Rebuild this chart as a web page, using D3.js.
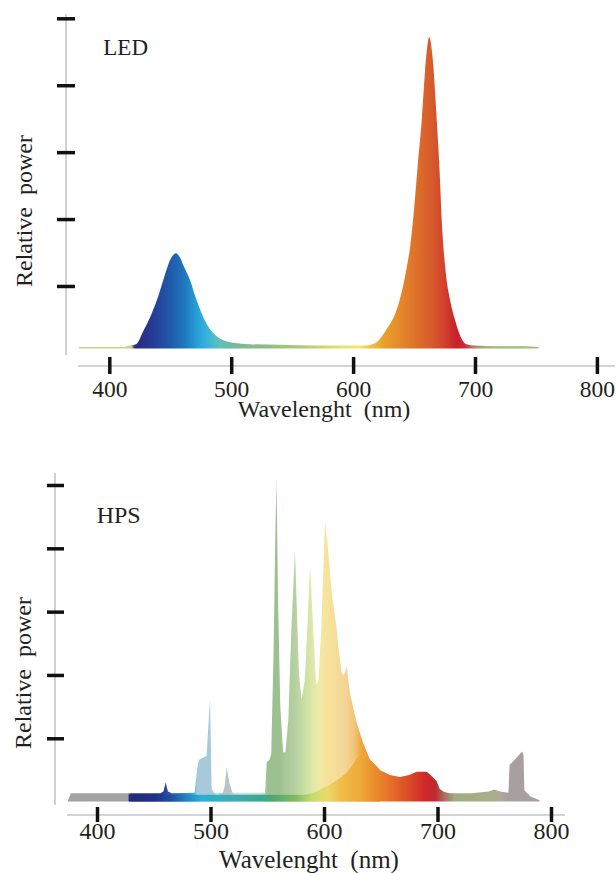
<!DOCTYPE html>
<html>
<head>
<meta charset="utf-8">
<script src="https://cdn.jsdelivr.net/npm/d3@7"></script>
<style>
  html, body { margin: 0; padding: 0; background: #fff; }
  svg { display: block; }
  text { font-family: "Liberation Serif", "DejaVu Serif", serif; fill: #231f20; }
</style>
</head>
<body>
<svg id="chart" width="616" height="873"></svg>
<script>
// ---- data (wavelength nm, relative power) ----
const xTicks = [400, 500, 600, 700, 800];
const yTicks = [1, 2, 3, 4, 5];

const ledSpectrum = [
  [375, 0.09], [412, 0.09], [416, 0.11], [422, 0.13], [428, 0.33], [434.8, 0.59],
  [440, 0.84], [444.3, 1.09], [448, 1.3], [451.5, 1.44], [454.7, 1.49], [457.5, 1.44],
  [461, 1.3], [466.2, 1.09], [471, 0.82], [475.8, 0.59], [481, 0.4], [488, 0.25],
  [495, 0.18], [502, 0.15], [515, 0.13], [540, 0.12], [570, 0.11], [600, 0.11],
  [610, 0.11], [616, 0.13], [620, 0.17], [624, 0.26], [628, 0.37], [633, 0.52],
  [638, 0.78], [643, 1.18], [647, 1.62], [650, 2.15], [653, 2.8], [656.3, 3.48],
  [659, 4.2], [662.5, 4.72], [665, 4.45], [668.6, 3.48], [671, 2.7], [672.7, 1.99],
  [676, 1.2], [680, 0.75], [683.6, 0.49], [688, 0.25], [693, 0.13], [700, 0.11],
  [720, 0.1], [740, 0.1], [752, 0.09]
];

const hpsSpectrum = [
  [374, 0], [377, 0.13], [428, 0.13], [456, 0.13], [458.5, 0.16], [460.5, 0.3],
  [462.5, 0.16], [466, 0.13], [486, 0.14], [488.5, 0.55], [490, 0.66], [492, 0.68],
  [496.5, 0.72], [499.6, 1.62], [501, 0.2], [503, 0.14], [511, 0.14], [512.5, 0.25],
  [514.3, 0.54], [516.5, 0.3], [519.5, 0.14], [548, 0.14], [549.5, 0.62], [552, 0.66],
  [553.5, 0.75], [555.5, 2.3], [557.2, 4.3], [558.2, 5.06], [559.5, 3.2], [561.5, 1.5],
  [564, 0.78], [566, 0.78], [568.6, 1.3], [571, 2.6], [574.4, 3.96], [576, 3.1],
  [578, 2.0], [580.3, 1.62], [583, 1.9], [585, 2.6], [587.7, 3.72], [590, 2.9],
  [593, 1.85], [595, 1.9], [597.5, 2.7], [600.9, 4.41], [603, 4.1], [606.8, 3.3],
  [611.2, 2.72], [612.6, 2.45], [615.6, 2.03], [617.5, 2.0], [620, 2.13], [622.9, 1.71],
  [628.8, 1.24], [634.6, 0.92], [640.5, 0.66], [649.3, 0.5], [658, 0.42], [667, 0.39],
  [675, 0.42], [681.7, 0.47], [690.5, 0.47], [695, 0.4], [699.3, 0.32], [702, 0.2],
  [706, 0.15], [711, 0.13], [730, 0.13], [745, 0.16], [750, 0.19], [755, 0.16],
  [762.5, 0.14], [763.5, 0.58], [768, 0.66], [774.5, 0.79], [775.8, 0.74], [776.5, 0.18],
  [782, 0.08], [790, 0.02]
];

// saturated continuum under the HPS lines (rises into the orange band)
const hpsContinuum = [
  [428, 0.11], [582, 0.11], [600, 0.22], [620, 0.46], [634, 0.74], [640.5, 0.66],
  [649.3, 0.5]
];

// ---- colour ramps (wavelength -> colour) ----
const ledColours = [
  [375, "#c5d48e"], [418, "#c5d48e"], [421, "#2a2a82"], [435, "#253a93"],
  [450, "#1f5aa8"], [462, "#1f78bf"], [472, "#28a0d8"], [480, "#35b4dc"],
  [490, "#5ec0b8"], [505, "#7bb898"], [530, "#90bc80"], [560, "#b4cc70"],
  [590, "#e4e070"], [605, "#f2ea60"], [615, "#eec040"], [625, "#e8a22a"],
  [640, "#e4862a"], [655, "#dc6a2a"], [665, "#d65a2c"], [675, "#d2402c"],
  [685, "#c8202c"], [692, "#c43040"], [700, "#b08a70"], [710, "#9cbc70"],
  [752, "#9cc070"]
];
const hpsColours = [
  [374, "#a2a2a2"], [427, "#a2a2a2"], [430, "#283080"], [455, "#262f88"],
  [461, "#2a4aa0"], [470, "#2a6cb4"], [485, "#3aa8d8"], [488, "#a8c8dc"],
  [502, "#a8c8dc"], [506, "#c2e2e2"], [511, "#b6c6c8"], [518, "#b6c6c8"],
  [522, "#c4e6e2"], [546, "#c0e2cc"], [550, "#9cc090"], [560, "#9cc090"],
  [566, "#a8c898"], [574, "#b4d0a0"], [581, "#c4dca4"], [588, "#d8e6a8"],
  [595, "#eeeaa8"], [601, "#f6e49c"], [612, "#f4dc98"], [620, "#f2d494"],
  [627, "#f0c478"], [633, "#eea838"], [645, "#ea8c2c"], [660, "#e46c28"],
  [675, "#dc4a28"], [688, "#d02a28"], [698, "#c02830"], [706, "#a87060"],
  [715, "#a0ac80"], [745, "#a8b088"], [755, "#b0a898"], [762, "#a8a0a0"],
  [790, "#a8a0a0"]
];
const stripColours = [
  [428, "#262a78"], [450, "#222e88"], [465, "#1e4ea0"], [480, "#2286c8"],
  [492, "#2ab0d8"], [505, "#30b0c0"], [525, "#40aab0"], [545, "#3aa890"],
  [555, "#50a870"], [575, "#80bc60"], [590, "#c8dc70"], [603, "#ecd86c"],
  [615, "#f0bc48"], [633, "#eea838"], [645, "#ea8c2c"], [650, "#e8842a"]
];

// ---- panels ----
const panels = [
  {
    name: "LED", id: "led", data: ledSpectrum, colours: ledColours, base: 0.065,
    curve: d3.curveMonotoneX,
    xRange: [109.3, 596.9], yRange: [352.9, 18.3],
    yLine: { x: 66, y1: 14, y2: 355 }, xLine: { y: 366, x1: 78, x2: 615 },
    xTickTop: 357, xTickLen: 17, yTickRight: 75, yTickLen: 18,
    tickLabelBase: 396.5, tickFont: 23.5,
    xLabel: { x: 324, y: 417, size: 24 }, yLabel: { x: 32, y: 211, size: 24 },
    title: { x: 103.3, y: 55, size: 23 }
  },
  {
    name: "HPS", id: "hps", data: hpsSpectrum, colours: hpsColours, base: 0,
    curve: d3.curveLinear, strip: hpsContinuum,
    xRange: [97, 551], yRange: [801.6, 485],
    yLine: { x: 55, y1: 473, y2: 805 }, xLine: { y: 815, x1: 67, x2: 565 },
    xTickTop: 807, xTickLen: 15, yTickRight: 64, yTickLen: 17,
    tickLabelBase: 839.3, tickFont: 24,
    xLabel: { x: 309, y: 868.3, size: 25 }, yLabel: { x: 31, y: 673, size: 24 },
    title: { x: 96.7, y: 523.3, size: 24 }
  }
];

const svg = d3.select("#chart");
const defs = svg.append("defs");

// horizontal gradient following wavelength
const makeGradient = (id, colours, x) => {
  const w0 = colours[0][0];
  const w1 = colours[colours.length - 1][0];
  const grad = defs.append("linearGradient")
    .attr("id", id)
    .attr("gradientUnits", "userSpaceOnUse")
    .attr("x1", x(w0)).attr("x2", x(w1))
    .attr("y1", 0).attr("y2", 0);
  grad.selectAll("stop")
    .data(colours)
    .join("stop")
    .attr("offset", (d) => (d[0] - w0) / (w1 - w0))
    .attr("stop-color", (d) => d[1]);
  return `url(#${id})`;
};

panels.forEach((p) => {
  const x = d3.scaleLinear().domain([400, 800]).range(p.xRange);
  const y = d3.scaleLinear().domain([0, 5]).range(p.yRange);
  const g = svg.append("g").attr("class", p.id);

  // grey axis lines
  g.append("line")
    .attr("x1", p.yLine.x).attr("x2", p.yLine.x)
    .attr("y1", p.yLine.y1).attr("y2", p.yLine.y2)
    .attr("stroke", "#c6c6c6").attr("stroke-width", 1.6);
  g.append("line")
    .attr("x1", p.xLine.x1).attr("x2", p.xLine.x2)
    .attr("y1", p.xLine.y).attr("y2", p.xLine.y)
    .attr("stroke", "#c6c6c6").attr("stroke-width", 1.6);

  // spectrum
  const area = d3.area()
    .x((d) => x(d[0]))
    .y0(y(p.base))
    .y1((d) => y(d[1]))
    .curve(p.curve);
  g.append("path")
    .datum(p.data)
    .attr("d", area)
    .attr("fill", makeGradient(p.id + "-grad", p.colours, x));

  if (p.strip) {
    g.append("path")
      .datum(p.strip)
      .attr("d", area.curve(d3.curveMonotoneX))
      .attr("fill", makeGradient(p.id + "-strip", stripColours, x));
  }

  // x axis ticks + labels
  const xAxis = g.append("g")
    .attr("transform", `translate(0,${p.xTickTop})`)
    .call(d3.axisBottom(x).tickValues(xTicks).tickSize(p.xTickLen));
  xAxis.select(".domain").remove();
  xAxis.selectAll(".tick line")
    .attr("stroke", "#111").attr("stroke-width", 3.5);
  xAxis.selectAll(".tick text")
    .attr("dy", null)
    .attr("y", p.tickLabelBase - p.xTickTop)
    .attr("fill", "#231f20")
    .style("font-family", '"Liberation Serif", "DejaVu Serif", serif')
    .style("font-size", p.tickFont + "px");

  // y axis ticks only
  const yAxis = g.append("g")
    .attr("transform", `translate(${p.yTickRight},0)`)
    .call(d3.axisLeft(y).tickValues(yTicks).tickSize(p.yTickLen).tickFormat(""));
  yAxis.select(".domain").remove();
  yAxis.selectAll(".tick line")
    .attr("stroke", "#111").attr("stroke-width", 3.5);

  // labels
  g.append("text")
    .attr("x", p.xLabel.x).attr("y", p.xLabel.y)
    .attr("text-anchor", "middle")
    .style("white-space", "pre")
    .style("font-size", p.xLabel.size + "px")
    .text("Wavelenght  (nm)");

  g.append("text")
    .attr("transform", `translate(${p.yLabel.x},${p.yLabel.y}) rotate(-90)`)
    .attr("text-anchor", "middle")
    .style("white-space", "pre")
    .style("font-size", p.yLabel.size + "px")
    .text("Relative  power");

  g.append("text")
    .attr("x", p.title.x).attr("y", p.title.y)
    .style("font-size", p.title.size + "px")
    .text(p.name);
});
</script>
</body>
</html>
